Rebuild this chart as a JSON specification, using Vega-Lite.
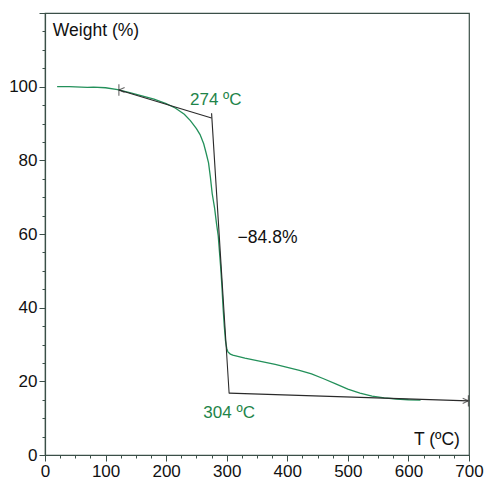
{
  "$schema": "https://vega.github.io/schema/vega-lite/v6.json",
  "width": 424,
  "height": 442,
  "autosize": "none",
  "padding": {"left": 45, "top": 13, "right": 15, "bottom": 26},
  "background": "white",
  "config": {
    "view": {"stroke": "#3b4f48", "strokeWidth": 1.2},
    "font": "Liberation Sans",
    "axis": {"grid": false, "labelFont": "Liberation Sans", "labelFontSize": 17, "labelColor": "#111", "domainColor": "#3b4f48", "domainWidth": 1.2, "tickColor": "#3b4f48", "title": null}
  },
  "datasets": {
    "curve": [
      {"T": 20, "w": 100}, {"T": 40, "w": 100}, {"T": 60, "w": 99.85}, {"T": 70, "w": 99.8}, {"T": 80, "w": 99.9},
      {"T": 100, "w": 99.7}, {"T": 120, "w": 99.2}, {"T": 140, "w": 98.4}, {"T": 160, "w": 97.5}, {"T": 180, "w": 96.6},
      {"T": 200, "w": 95.4}, {"T": 215, "w": 94.2}, {"T": 230, "w": 92.5}, {"T": 240, "w": 90.8}, {"T": 250, "w": 88.6},
      {"T": 256, "w": 87}, {"T": 262, "w": 84.5}, {"T": 266, "w": 82}, {"T": 270, "w": 79.3}, {"T": 273, "w": 75.5},
      {"T": 276, "w": 71}, {"T": 280, "w": 67}, {"T": 283, "w": 63}, {"T": 286, "w": 59.5}, {"T": 290, "w": 51},
      {"T": 292, "w": 46}, {"T": 294, "w": 40}, {"T": 296, "w": 35}, {"T": 298, "w": 31}, {"T": 300, "w": 29},
      {"T": 302, "w": 28}, {"T": 306, "w": 27.4}, {"T": 310, "w": 27.1}, {"T": 330, "w": 26.3}, {"T": 350, "w": 25.6},
      {"T": 380, "w": 24.6}, {"T": 400, "w": 23.8}, {"T": 420, "w": 23}, {"T": 440, "w": 22}, {"T": 460, "w": 20.7},
      {"T": 480, "w": 19.3}, {"T": 500, "w": 17.9}, {"T": 520, "w": 16.8}, {"T": 540, "w": 16}, {"T": 560, "w": 15.5},
      {"T": 580, "w": 15.2}, {"T": 600, "w": 15}, {"T": 620, "w": 14.9}
    ],
    "tangents": [
      {"seg": "a", "T": 122, "w": 99.1}, {"seg": "a", "T": 275, "w": 91.5},
      {"seg": "b", "T": 275, "w": 92.8}, {"seg": "b", "T": 304, "w": 16.7},
      {"seg": "c", "T": 304, "w": 16.8}, {"seg": "c", "T": 699, "w": 14.7}
    ],
    "marks": [
      {"T": 122, "w": 99.1, "kind": "left"},
      {"T": 699, "w": 14.7, "kind": "right"}
    ],
    "greenLabels": [
      {"T": 282, "w": 96.3, "text": "274 ºC"},
      {"T": 304, "w": 11.5, "text": "304 ºC"}
    ],
    "leftLabels": [
      {"T": 318, "w": 58.8, "text": "−84.8%"},
      {"T": 13, "w": 115.2, "text": "Weight (%)"}
    ],
    "rightLabels": [
      {"T": 685, "w": 4, "text": "T (ºC)"}
    ]
  },
  "encoding": {
    "x": {"field": "T", "type": "quantitative", "scale": {"domain": [0, 700], "nice": false}, "axis": {
      "values": [0,25,50,75,100,125,150,175,200,225,250,275,300,325,350,375,400,425,450,475,500,525,550,575,600,625,650,675,700],
      "labelExpr": "datum.value % 100 === 0 ? datum.label : ''",
      "tickSize": {"condition": {"test": "datum.value % 100 === 0", "value": 6}, "value": 3},
      "labelPadding": 2, "labelFlush": false, "labelOverlap": false
    }},
    "y": {"field": "w", "type": "quantitative", "scale": {"domain": [0, 120], "nice": false}, "axis": {
      "values": [0,5,10,15,20,25,30,35,40,45,50,55,60,65,70,75,80,85,90,95,100,105,110,115,120],
      "labelExpr": "(datum.value % 20 === 0 && datum.value < 120) ? datum.label : ''",
      "tickSize": {"condition": {"test": "datum.value % 20 === 0", "value": 6}, "value": 3},
      "labelPadding": 2, "labelFlush": false, "labelOverlap": false
    }}
  },
  "layer": [
    {"data": {"name": "curve"}, "mark": {"type": "line", "color": "#23905a", "strokeWidth": 1.3}},
    {"data": {"name": "tangents"}, "mark": {"type": "line", "color": "#2a2a2a", "strokeWidth": 1.1}, "encoding": {"detail": {"field": "seg"}}},
    {"data": {"name": "marks"}, "mark": {"type": "point", "filled": false, "color": "#2a2a2a", "strokeWidth": 1.1, "size": 130}, "encoding": {
      "shape": {"field": "kind", "type": "nominal", "scale": {"domain": ["left", "right"], "range": ["M1,-0.45L0,0L1,0.45M0,-1L0,1", "M-1,-0.45L0,0L-1,0.45M0,-1L0,1"]}, "legend": null}
    }},
    {"data": {"name": "greenLabels"}, "mark": {"type": "text", "fontSize": 17, "font": "Liberation Sans", "baseline": "middle", "align": "center", "color": "#1e8449"}, "encoding": {"text": {"field": "text"}}},
    {"data": {"name": "leftLabels"}, "mark": {"type": "text", "fontSize": 17.5, "font": "Liberation Sans", "baseline": "middle", "align": "left", "color": "#111111"}, "encoding": {"text": {"field": "text"}}},
    {"data": {"name": "rightLabels"}, "mark": {"type": "text", "fontSize": 17.5, "font": "Liberation Sans", "baseline": "middle", "align": "right", "color": "#111111"}, "encoding": {"text": {"field": "text"}}}
  ]
}
